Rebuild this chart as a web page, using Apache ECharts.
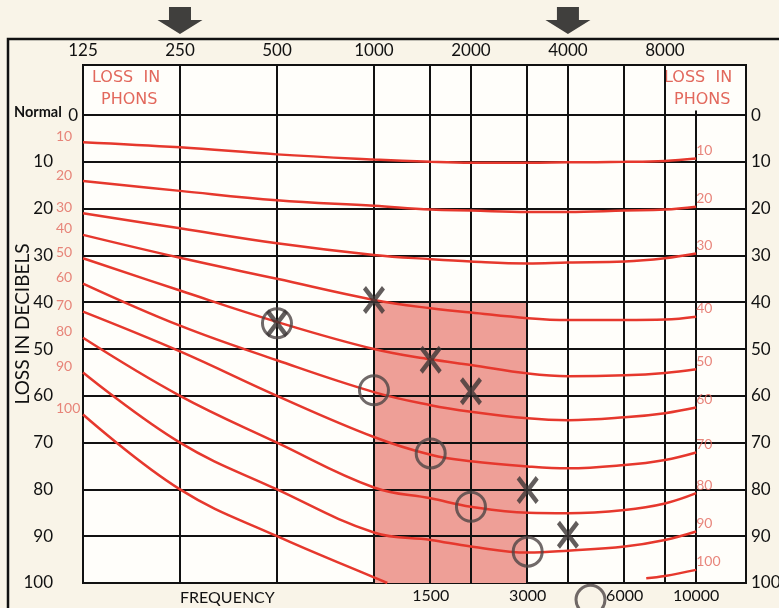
<!DOCTYPE html>
<html>
<head>
<meta charset="utf-8">
<title>Audiogram - loss in phons</title>
<script src="https://cdn.jsdelivr.net/npm/echarts@6/dist/echarts.min.js"></script>
<style>
  html, body { margin: 0; padding: 0; background: #f9f4e8; }
  #chart { width: 779px; height: 608px; }
</style>
</head>
<body>
<div id="chart"></div>
<script>
// frequencies (Hz) at which the curves were read
const freqs = [125, 250, 500, 1000, 1500, 2000, 3000, 4000, 6000, 8000, 10000];
const topFreqLabels = [125, 250, 500, 1000, 2000, 4000, 8000];
const bottomFreqLabels = [1500, 3000, 6000, 10000];
const gridFreqs = [250, 500, 1000, 1500, 2000, 3000, 4000, 6000, 8000];
const dbTicks = [0, 10, 20, 30, 40, 50, 60, 70, 80, 90, 100];
const dbLines = [0, 10, 20, 30, 40, 50, 60, 70, 80, 90];

// equal loudness curves (loss in dB) per phon level
const phon10 = [5.8, 6.9, 8.4, 9.5, 10.0, 10.2, 10.2, 10.1, 10.0, 9.8, 9.3];
const phon20 = [14.1, 16.2, 18.2, 19.4, 20.2, 20.4, 20.7, 20.7, 20.4, 20.2, 19.6];
const phon30 = [21.0, 24.2, 27.4, 29.9, 30.8, 31.3, 31.7, 31.5, 31.3, 30.6, 29.6];
const phon40 = [25.6, 30.5, 35.0, 39.5, 41.3, 42.2, 43.4, 43.8, 43.8, 43.7, 43.1];
const phon50 = [30.6, 37.5, 44.2, 50.0, 52.2, 53.4, 55.2, 55.8, 55.6, 55.1, 54.3];
const phon60 = [36.0, 45.0, 52.4, 59.2, 62.0, 63.4, 64.8, 65.2, 64.6, 63.7, 62.5];
const phon70 = [42.0, 50.5, 60.0, 68.8, 72.6, 74.0, 75.1, 75.5, 74.8, 73.7, 72.1];
const phon80 = [47.6, 60.0, 70.0, 79.6, 81.9, 83.7, 85.0, 85.1, 84.4, 83.0, 80.8];
const phon90 = [55.0, 70.0, 80.0, 89.2, 90.8, 92.2, 93.5, 93.1, 92.2, 90.8, 89.0];
// the 100 phon curve leaves the chart and comes back near 7000 Hz
const phon100Freqs = [125, 250, 500, 1000, 1100, 4000, 7000, 8000, 10000];
const phon100 = [64.0, 80.0, 90.0, 98.8, 100.0, null, 99.0, 98.5, 97.2];

// test marks
const crossFreqs = [500, 1000, 1500, 2000, 3000, 4000];
const crossLoss = [44.5, 39.5, 52.3, 59.0, 80.1, 89.7];
const ringFreqs = [500, 1000, 1500, 2000, 3000, 4700];
const ringLoss = [44.5, 58.8, 72.3, 83.7, 93.3, 103.6];
const arrowFreqs = [250, 4000];
// speech band
const bandFreqs = [1000, 3000];
const bandLoss = [40, 100];

const oct = f => Math.log2(f / 125);
const XMAX = Math.log2(14280 / 125);
const RED = '#e6382d';
const LABEL_RED = '#e2685c';
const FONT = 'Lato';

const curves = [
  ['10', freqs, phon10], ['20', freqs, phon20], ['30', freqs, phon30],
  ['40', freqs, phon40], ['50', freqs, phon50], ['60', freqs, phon60],
  ['70', freqs, phon70], ['80', freqs, phon80], ['90', freqs, phon90],
  ['100', phon100Freqs, phon100]
];

const chart = echarts.init(document.getElementById('chart'));

const curveSeries = curves.map(([name, fs, vals]) => ({
  name: name + ' phons',
  type: 'line',
  smooth: 0.4,
  symbol: 'none',
  z: 10,
  lineStyle: { color: RED, width: 2.5 },
  data: fs.map((f, i) => [oct(f), vals[i] == null ? '-' : vals[i]])
}));

const phonLabel = (offsetX, offsetY) => ({
  show: true,
  position: 'inside',
  align: 'left',
  verticalAlign: 'middle',
  offset: [offsetX, offsetY],
  color: LABEL_RED,
  fontFamily: FONT,
  fontSize: 14,
  formatter: p => curves[p.dataIndex][0]
});

const xSymbol = 'path://M0,3 L3,0 L11,9 L19,0 L22,3 L14,12 L22,21 L19,24 L11,15 L3,24 L0,21 L8,12 Z';
const arrowSymbol = 'path://M11.5,0 L33.5,0 L33.5,13 L45,13 L22.5,27 L0,13 L11.5,13 Z';
const headFont = '16px "DejaVu Sans"';

const option = {
  backgroundColor: '#f9f4e8',
  animation: false,
  grid: {
    left: 83, top: 65, width: 663, height: 518,
    outerBoundsMode: 'none', containLabel: false,
    show: true, backgroundColor: '#fffefa',
    borderColor: '#111', borderWidth: 2
  },
  xAxis: [
    {
      type: 'value', min: 0, max: XMAX, position: 'top',
      axisLine: { show: false }, axisTick: { show: false }, splitLine: { show: false },
      axisLabel: {
        customValues: topFreqLabels.map(oct),
        formatter: v => String(Math.round(125 * Math.pow(2, v))),
        color: '#111', fontFamily: FONT, fontSize: 17, margin: 6
      }
    },
    {
      type: 'value', min: 0, max: XMAX, position: 'bottom',
      axisLine: { show: false }, axisTick: { show: false }, splitLine: { show: false },
      axisLabel: {
        customValues: bottomFreqLabels.map(oct),
        formatter: v => String(Math.round(125 * Math.pow(2, v))),
        color: '#111', fontFamily: FONT, fontSize: 16, margin: 5
      }
    }
  ],
  yAxis: [
    {
      type: 'value', inverse: true, min: -10.7, max: 100, position: 'left',
      name: 'LOSS IN DECIBELS', nameLocation: 'middle', nameRotate: 90, nameGap: 60,
      nameMoveOverlap: false,
      nameTextStyle: { color: '#111', fontFamily: FONT, fontSize: 19, verticalAlign: 'middle' },
      axisLine: { show: false }, axisTick: { show: false }, splitLine: { show: false },
      axisLabel: {
        customValues: dbTicks, margin: 5,
        formatter: v => v === 0 ? '{n|Normal} {z|0}' : '{v|' + v + '}',
        rich: {
          n: { fontFamily: FONT, fontSize: 14.5, fontWeight: 'bold', color: '#111', padding: [0, 3, 6, 0] },
          z: { fontFamily: FONT, fontSize: 17, color: '#111' },
          v: { fontFamily: FONT, fontSize: 17, color: '#111', padding: [0, 25, 0, 0] }
        }
      }
    },
    {
      type: 'value', inverse: true, min: -10.7, max: 100, position: 'right',
      axisLine: { show: false }, axisTick: { show: false }, splitLine: { show: false },
      axisLabel: {
        customValues: dbTicks, margin: 5,
        color: '#111', fontFamily: FONT, fontSize: 17
      }
    }
  ],
  graphic: [
    { type: 'rect', shape: { x: 8, y: 39, width: 820, height: 620 },
      style: { fill: 'none', stroke: '#111', lineWidth: 2.5 }, silent: true },
    { type: 'text', left: 92, top: 70, style: { text: 'LOSS  IN', fill: LABEL_RED, font: headFont } },
    { type: 'text', left: 101, top: 92, style: { text: 'PHONS', fill: LABEL_RED, font: headFont } },
    { type: 'text', left: 664, top: 70, style: { text: 'LOSS  IN', fill: LABEL_RED, font: headFont } },
    { type: 'text', left: 674, top: 92, style: { text: 'PHONS', fill: LABEL_RED, font: headFont } },
    { type: 'text', left: 180, top: 590, style: { text: 'FREQUENCY', fill: '#111', font: '16px Lato' } }
  ],
  series: [
    {
      name: 'grid lines',
      type: 'line',
      data: [],
      z: 1,
      silent: true,
      markArea: {
        silent: true,
        itemStyle: { color: '#ee9f97' },
        data: [[
          { coord: [oct(bandFreqs[0]), bandLoss[0]] },
          { coord: [oct(bandFreqs[1]), bandLoss[1]] }
        ]]
      },
      markLine: {
        silent: true,
        symbol: 'none',
        label: { show: false },
        lineStyle: { color: '#111', width: 2, type: 'solid' },
        data: [
          ...gridFreqs.map(f => ({ xAxis: oct(f) })),
          ...dbLines.map(d => ({ yAxis: d })),
          [{ coord: [oct(10000), -1] }, { coord: [oct(10000), 100] }]
        ]
      }
    },
    ...curveSeries,
    {
      name: 'phon labels left',
      type: 'scatter',
      symbolSize: 1,
      z: 12,
      itemStyle: { color: 'rgba(0,0,0,0)' },
      label: phonLabel(-27, -6),
      data: curves.map(([n, fs, vals]) => [oct(fs[0]), vals[0]])
    },
    {
      name: 'phon labels right',
      type: 'scatter',
      symbolSize: 1,
      z: 12,
      itemStyle: { color: 'rgba(0,0,0,0)' },
      label: phonLabel(0, -8),
      data: curves.map(([n, fs, vals]) => [oct(fs[fs.length - 1]), vals[vals.length - 1]])
    },
    {
      name: 'rings',
      type: 'scatter',
      clip: false,
      z: 20,
      symbol: 'circle',
      symbolSize: 29,
      itemStyle: { color: 'rgba(0,0,0,0)', borderColor: '#4d4545', borderWidth: 3 },
      data: ringFreqs.map((f, i) => [oct(f), ringLoss[i]])
    },
    {
      name: 'crosses',
      type: 'scatter',
      z: 21,
      symbol: xSymbol,
      symbolSize: [22, 28],
      itemStyle: { color: '#3b3434' },
      data: crossFreqs.map((f, i) => [oct(f), crossLoss[i]])
    },
    {
      name: 'arrows',
      type: 'scatter',
      clip: false,
      z: 21,
      symbol: arrowSymbol,
      symbolSize: [45, 27],
      itemStyle: { color: '#111' },
      data: arrowFreqs.map(f => [oct(f), -20.2])
    }
  ]
};

chart.setOption(option);
window.addEventListener('resize', () => chart.resize());
</script>
</body>
</html>
